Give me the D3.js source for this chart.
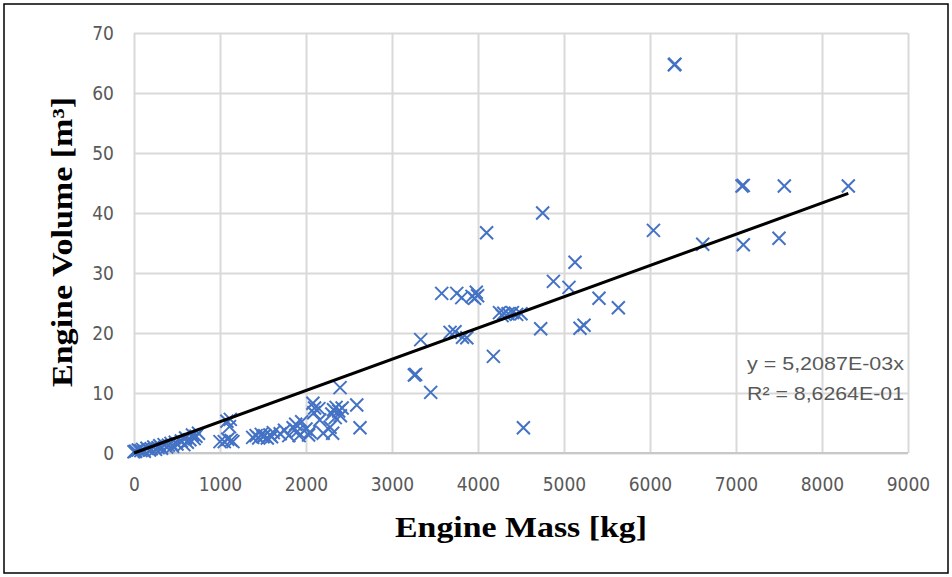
<!DOCTYPE html>
<html>
<head>
<meta charset="utf-8">
<script src="https://cdn.jsdelivr.net/npm/d3@7"></script>
<style>
  html, body { margin: 0; padding: 0; background: #fff; }
  svg { display: block; }
</style>
</head>
<body>
<svg id="chart" width="952" height="577"></svg>
<script>
// Engine mass [kg] and engine volume [m³] for each engine in the set
const engineMass = [
  0, 20, 50, 80, 100, 120, 150, 180, 200, 230, 250, 280, 300, 320, 350, 380, 400, 430, 450, 480,
  500, 550, 580, 600, 620, 650, 680, 700, 720, 750,
  1000, 1050, 1080, 1090, 1110, 1120, 1130, 1150,
  1380, 1420, 1450, 1480, 1500, 1520, 1550, 1580, 1600, 1620,
  1700, 1750, 1800, 1850, 1880, 1900, 1920, 1950, 2000, 2030, 2047,
  2080, 2090, 2100, 2150, 2160, 2200, 2280,
  2300, 2310, 2320, 2340, 2350, 2380, 2396, 2400, 2420,
  2590, 2628,
  3260, 3275, 3334, 3450,
  3578, 3675, 3733, 3753, 3811, 3820, 3870, 3930, 3960, 3980, 3995, 4100, 4179,
  4250, 4280, 4300, 4350, 4400, 4450, 4500, 4528,
  4729, 4752, 4877, 5058, 5128, 5186, 5233, 5407, 5632,
  6040, 6283, 6290, 6613, 7070, 7085, 7085, 7500, 7562, 8306
];
const engineVolume = [
  0.2, 0.3, 0.5, 0.4, 0.6, 0.3, 0.8, 0.5, 0.7, 1.0, 0.6, 0.9, 1.2, 0.8, 1.4, 1.0, 1.3, 1.6, 1.1, 1.8,
  1.5, 2.0, 1.4, 2.5, 1.8, 2.2, 3.0, 2.4, 2.8, 3.3,
  1.9, 1.9, 5.3, 2.3, 4.4, 5.6, 2.1, 1.9,
  2.6, 2.9, 2.5, 3.1, 2.7, 2.9, 2.5, 3.0, 2.7, 3.4,
  3.2, 3.8, 2.9, 4.2, 4.8, 3.6, 2.9, 5.2, 4.0, 3.0, 3.5,
  8.3, 6.7, 7.5, 7.4, 5.5, 3.3, 4.3,
  6.5, 3.3, 7.2, 5.9, 7.6, 7.0, 10.9, 6.2, 7.5,
  8.0, 4.2,
  13.0, 13.1, 18.9, 10.1,
  26.6, 20.1, 20.2, 26.6, 25.9, 19.3, 19.2, 26.1, 25.8, 26.8, 26.2, 36.7, 16.1,
  23.4, 22.9, 23.3, 23.2, 23.4, 23.1, 23.2, 4.2,
  20.7, 40.0, 28.6, 27.6, 31.8, 20.8, 21.3, 25.8, 24.2,
  37.1, 64.7, 64.8, 34.8, 44.5, 44.6, 34.7, 35.8, 44.5, 44.5
];

// Axis ticks
const xTicks = [0, 1000, 2000, 3000, 4000, 5000, 6000, 7000, 8000, 9000];
const yTicks = [0, 10, 20, 30, 40, 50, 60, 70];

// Linear fit through the origin
const slope = 5.2087e-3;
const equationLines = ["y = 5,2087E-03x", "R² = 8,6264E-01"];

const xLabel = "Engine Mass [kg]";
const yLabel = "Engine Volume [m³]";

const svg = d3.select("#chart");
const W = 952, H = 577;
const plot = { left: 134, right: 908, top: 33, bottom: 453 };

const x = d3.scaleLinear().domain([0, 9000]).range([plot.left, plot.right]);
const y = d3.scaleLinear().domain([0, 70]).range([plot.bottom, plot.top]);

// Outer frame
svg.append("rect")
  .attr("x", 4).attr("y", 4)
  .attr("width", W - 8).attr("height", H - 8)
  .attr("fill", "#fff").attr("stroke", "#000").attr("stroke-width", 1.5);

const grid = "#d9d9d9";
const tickFont = "'Liberation Sans Narrow', 'DejaVu Sans Condensed', 'Liberation Sans', sans-serif";
const tickColor = "#595959";

// Vertical gridlines + x tick labels
const xAxis = d3.axisBottom(x).tickValues(xTicks).tickSize(-(plot.bottom - plot.top)).tickFormat(d3.format("d"));
const gx = svg.append("g").attr("transform", `translate(0,${plot.bottom})`).call(xAxis);
gx.select(".domain").remove();
gx.selectAll(".tick line").attr("stroke", grid).attr("stroke-width", 2);
gx.selectAll(".tick text")
  .attr("y", 38).attr("dy", 0)
  .attr("fill", tickColor)
  .style("font-family", tickFont).style("font-size", "19px");

// Horizontal gridlines + y tick labels
const yAxis = d3.axisLeft(y).tickValues(yTicks).tickSize(-(plot.right - plot.left)).tickFormat(d3.format("d"));
const gy = svg.append("g").attr("transform", `translate(${plot.left},0)`).call(yAxis);
gy.select(".domain").remove();
gy.selectAll(".tick line").attr("stroke", grid).attr("stroke-width", 2);
gy.selectAll(".tick text")
  .attr("x", -20).attr("dy", "0.35em")
  .attr("fill", tickColor)
  .style("font-family", tickFont).style("font-size", "19px");

// Bottom axis line
svg.append("line")
  .attr("x1", plot.left).attr("x2", plot.right)
  .attr("y1", y(0)).attr("y2", y(0))
  .attr("stroke", "#c8c8c8").attr("stroke-width", 2);

// Data markers (x shapes)
const data = engineMass.map((m, i) => ({ m, v: engineVolume[i] }));
const s = 6.5;
const marks = svg.append("g").attr("stroke", "#4472C4").attr("stroke-width", 2).attr("fill", "none");
marks.selectAll("path").data(data).join("path")
  .attr("d", d => {
    const cx = x(d.m), cy = y(d.v);
    return `M${cx - s},${cy - s}L${cx + s},${cy + s}M${cx - s},${cy + s}L${cx + s},${cy - s}`;
  });

// Trendline across the data range
const xMin = d3.min(engineMass), xMax = d3.max(engineMass);
svg.append("line")
  .attr("x1", x(xMin)).attr("y1", y(slope * xMin))
  .attr("x2", x(xMax)).attr("y2", y(slope * xMax))
  .attr("stroke", "#000").attr("stroke-width", 3);

// Fit equation
svg.append("g").selectAll("text").data(equationLines).join("text")
  .attr("x", 747).attr("y", (d, i) => 370 + i * 30)
  .attr("textLength", 157).attr("lengthAdjust", "spacingAndGlyphs")
  .attr("fill", tickColor)
  .style("font-family", "'Liberation Sans', sans-serif").style("font-size", "19px")
  .text(d => d);

// Axis titles
const titleFont = "'Liberation Serif', 'Times New Roman', serif";
svg.append("text")
  .attr("x", 395).attr("y", 537)
  .attr("textLength", 252).attr("lengthAdjust", "spacingAndGlyphs")
  .style("font-family", titleFont).style("font-size", "29px").style("font-weight", "bold")
  .attr("fill", "#000")
  .text(xLabel);

svg.append("text")
  .attr("transform", `translate(72,387) rotate(-90)`)
  .attr("x", 0).attr("y", 0)
  .attr("textLength", 290).attr("lengthAdjust", "spacingAndGlyphs")
  .style("font-family", titleFont).style("font-size", "29px").style("font-weight", "bold")
  .attr("fill", "#000")
  .text(yLabel);
</script>
</body>
</html>
